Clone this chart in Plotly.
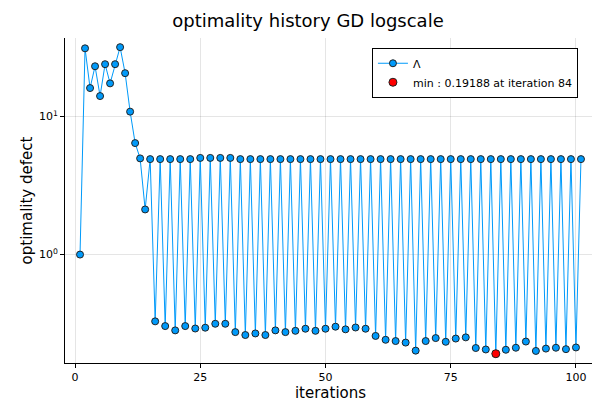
import plotly.graph_objects as go

# iterations 1..14 (warm-up phase)
head_vals = [1.0, 31.0, 16.0, 23.0, 14.0, 23.8, 17.3, 23.8, 31.6, 20.5, 10.8, 6.4, 4.96, 2.12]
# odd iterations 15..101 (high branch)
high_vals = [4.9, 4.9, 4.9, 4.9, 4.9, 5.0, 5.0, 5.0, 5.0, 4.9, 4.9, 4.9, 4.9, 4.9, 4.9,
             4.9, 4.9, 4.9, 4.9, 4.9, 4.9, 4.9, 4.9, 4.9, 4.9, 4.9, 4.9, 4.9, 4.9, 4.9,
             4.9, 4.9, 4.9, 4.9, 4.9, 4.9, 4.9, 4.9, 4.9, 4.9, 4.9, 4.9, 4.9, 4.9]
# even iterations 16..100 (low branch)
low_vals = [0.329, 0.304, 0.283, 0.304, 0.292, 0.296, 0.316, 0.316, 0.275, 0.262,
            0.269, 0.262, 0.283, 0.275, 0.281, 0.291, 0.281, 0.291, 0.301, 0.288,
            0.297, 0.291, 0.258, 0.242, 0.237, 0.231, 0.202, 0.237, 0.249, 0.234,
            0.247, 0.252, 0.211, 0.206, 0.19188, 0.205, 0.212, 0.235, 0.201, 0.209,
            0.212, 0.207, 0.213]
min_iter = 84
min_val = 0.19188

y = list(head_vals)
for i in range(len(high_vals)):
    y.append(high_vals[i])
    if i < len(low_vals):
        y.append(low_vals[i])
x = list(range(1, len(y) + 1))

fig = go.Figure()
fig.add_trace(go.Scatter(
    x=x, y=y, mode="lines+markers", name="Λ",
    line=dict(color="#009AFA", width=1),
    marker=dict(color="#009AFA", size=7, line=dict(color="#222222", width=1)),
))
fig.add_trace(go.Scatter(
    x=[min_iter], y=[min_val], mode="markers",
    name="min : 0.19188 at iteration 84",
    marker=dict(color="#FF0000", size=8, line=dict(color="#222222", width=1)),
))

axis_common = dict(
    showline=True, linecolor="black", linewidth=1, mirror=False,
    showgrid=True, gridcolor="rgba(0,0,0,0.1)", gridwidth=1,
    ticks="outside", ticklen=4, tickcolor="black", zeroline=False,
    tickfont=dict(size=11, color="black"), automargin=False,
)
fig.update_xaxes(range=[-2, 104], tickvals=[0, 25, 50, 75, 100],
                 title=dict(text="iterations", font=dict(size=15), standoff=2), **axis_common)
fig.update_yaxes(type="log", range=[-0.784, 1.566], tickvals=[1, 10],
                 ticktext=["10<sup>0</sup>", "10<sup>1</sup>"],
                 title=dict(text="optimality defect", font=dict(size=15), standoff=2), **axis_common)

fig.update_layout(
    width=600, height=400,
    paper_bgcolor="white", plot_bgcolor="white",
    font=dict(family="DejaVu Sans", color="black"),
    title=dict(text="optimality history GD logscale", x=0.5, xanchor="center",
               y=0.985, yanchor="top", font=dict(size=18)),
    margin=dict(l=57, r=12, t=30, b=45),
    legend=dict(x=0.966, y=0.97, xanchor="right", yanchor="top",
                bordercolor="black", borderwidth=1, bgcolor="white",
                font=dict(size=11), tracegroupgap=0),
)

fig.write_html("out.html")
